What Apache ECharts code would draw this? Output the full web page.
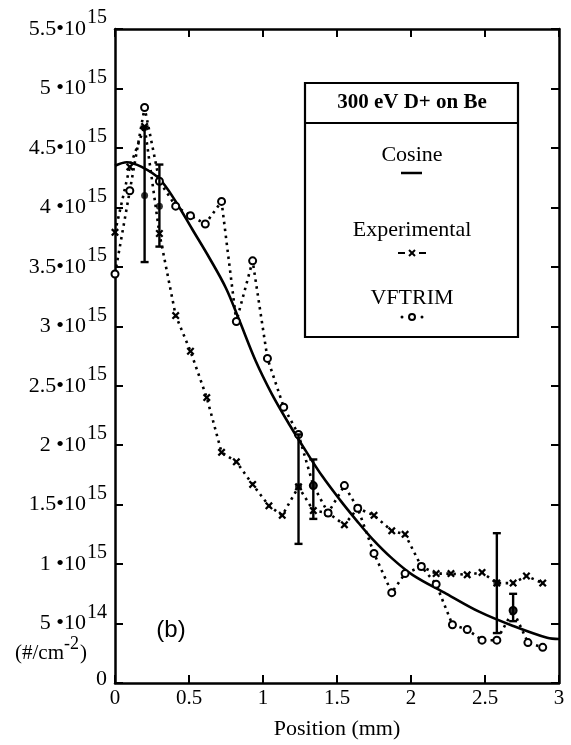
<!DOCTYPE html>
<html>
<head>
<meta charset="utf-8">
<script src="https://cdn.jsdelivr.net/npm/echarts@6/dist/echarts.min.js"></script>
<style>
html,body{margin:0;padding:0;background:#fff;}
#chart{width:571px;height:745px;}
</style>
</head>
<body>
<div id="chart"></div>
<script>
// ---- data (y values in units of 1e15 #/cm^2) ----
const cosineX = [0, 0.08, 0.18, 0.30, 0.41, 0.52, 0.64, 0.75, 0.84, 0.95, 1.06, 1.18, 1.29, 1.40, 1.52, 1.63, 1.74, 1.87, 2.01, 2.24, 2.46, 2.69, 2.92, 3.00];
const cosineY = [4.35, 4.38, 4.34, 4.24, 4.05, 3.82, 3.57, 3.32, 3.05, 2.71, 2.43, 2.17, 1.95, 1.74, 1.54, 1.37, 1.21, 1.05, 0.91, 0.75, 0.60, 0.48, 0.38, 0.37];

const expX = [0, 0.10, 0.20, 0.30, 0.41, 0.51, 0.62, 0.72, 0.82, 0.93, 1.04, 1.13, 1.24, 1.34, 1.44, 1.55, 1.64, 1.75, 1.87, 1.96, 2.07, 2.17, 2.27, 2.38, 2.48, 2.58, 2.69, 2.78, 2.89];
const expY = [3.79, 4.34, 4.68, 3.78, 3.09, 2.79, 2.40, 1.94, 1.86, 1.67, 1.49, 1.41, 1.65, 1.45, 1.43, 1.33, 1.47, 1.41, 1.28, 1.25, 0.98, 0.92, 0.92, 0.91, 0.93, 0.84, 0.84, 0.90, 0.84];

const vftrimX = [0, 0.10, 0.20, 0.30, 0.41, 0.51, 0.61, 0.72, 0.82, 0.93, 1.03, 1.14, 1.24, 1.34, 1.44, 1.55, 1.64, 1.75, 1.87, 1.96, 2.07, 2.17, 2.28, 2.38, 2.48, 2.58, 2.69, 2.79, 2.89];
const vftrimY = [3.44, 4.14, 4.84, 4.22, 4.01, 3.93, 3.86, 4.05, 3.04, 3.55, 2.73, 2.32, 2.09, 1.66, 1.43, 1.66, 1.47, 1.09, 0.76, 0.92, 0.98, 0.83, 0.49, 0.45, 0.36, 0.36, 0.61, 0.34, 0.30];

const errX = [0.20, 0.30, 1.24, 1.34, 2.58, 2.69];
const errLow = [3.54, 3.67, 1.17, 1.38, 0.42, 0.52];
const errHigh = [4.68, 4.36, 2.09, 1.88, 1.26, 0.75];
const errMid = [4.10, 4.01, 1.65, 1.66, 0.84, 0.61];

const xTickLabels = ['0', '0.5', '1', '1.5', '2', '2.5', '3'];
const yTickMantissa = ['0', '5 \u202210', '1 \u202210', '1.5\u202210', '2 \u202210', '2.5\u202210', '3 \u202210', '3.5\u202210', '4 \u202210', '4.5\u202210', '5 \u202210', '5.5\u202210'];
const yTickExponent = ['', '14', '15', '15', '15', '15', '15', '15', '15', '15', '15', '15'];

const legendTitle = '300 eV D+ on Be';
const legendNames = ['Cosine', 'Experimental', 'VFTRIM'];
const xAxisName = 'Position (mm)';
const panelLabel = '(b)';

// ---- build ----
const zip = (a, b) => a.map((v, i) => [v, b[i]]);
const serif = 'Liberation Serif';
const xMark = 'path://M2,0 L5,3 L8,0 L10,2 L7,5 L10,8 L8,10 L5,7 L2,10 L0,8 L3,5 L0,2 Z';

const chart = echarts.init(document.getElementById('chart'), null, {renderer: 'canvas'});

const axisCommon = () => ({
  axisLine: {show: true, onZero: false, lineStyle: {color: '#000', width: 2.5}},
  axisTick: {show: true, inside: true, length: 8, lineStyle: {color: '#000', width: 2}},
  splitLine: {show: false}
});

const option = {
  backgroundColor: '#fff',
  animation: false,
  grid: {left: 115, right: 12, top: 29, bottom: 58, containLabel: false},
  xAxis: [
    Object.assign({
      type: 'value', min: 0, max: 3, interval: 0.5, position: 'bottom',
      axisLabel: {
        show: true, color: '#000', fontFamily: serif, fontSize: 21, margin: 5,
        formatter: (v) => xTickLabels[Math.round(v / 0.5)]
      },
      name: xAxisName, nameLocation: 'middle', nameGap: 35,
      nameTextStyle: {color: '#000', fontFamily: serif, fontSize: 22}
    }, axisCommon()),
    Object.assign({
      type: 'value', min: 0, max: 3, interval: 0.5, position: 'top',
      axisLabel: {show: false}
    }, axisCommon())
  ],
  yAxis: [
    Object.assign({
      type: 'value', min: 0, max: 5.5, interval: 0.5, position: 'left',
      axisLabel: {
        show: true, margin: 8, showMinLabel: true, showMaxLabel: true,
        formatter: (v) => {
          const i = Math.round(v / 0.5);
          const e = yTickExponent[i];
          return e ? '{b|' + yTickMantissa[i] + '}{s|' + e + '}' : '{z|' + yTickMantissa[i] + '}';
        },
        rich: {
          b: {color: '#000', fontFamily: serif, fontSize: 22},
          s: {color: '#000', fontFamily: serif, fontSize: 20, padding: [0, 0, 22, 1]},
          z: {color: '#000', fontFamily: serif, fontSize: 22, padding: [0, 0, 8, 0]}
        }
      }
    }, axisCommon()),
    Object.assign({
      type: 'value', min: 0, max: 5.5, interval: 0.5, position: 'right',
      axisLabel: {show: false}
    }, axisCommon())
  ],
  graphic: [
    {type: 'rect', shape: {x: 305, y: 83, width: 213, height: 254}, style: {fill: '#fff', stroke: '#000', lineWidth: 2.2}, z: 100},
    {type: 'line', shape: {x1: 305, y1: 123, x2: 518, y2: 123}, style: {stroke: '#000', lineWidth: 2}, z: 101},
    {type: 'text', x: 412, y: 103, style: {text: legendTitle, fill: '#000', font: 'bold 21px "Liberation Serif"', align: 'center', verticalAlign: 'middle'}, z: 101},
    {type: 'text', x: 412, y: 155, style: {text: legendNames[0], fill: '#000', font: '22px "Liberation Serif"', align: 'center', verticalAlign: 'middle'}, z: 101},
    {type: 'line', shape: {x1: 401, y1: 173, x2: 422, y2: 173}, style: {stroke: '#000', lineWidth: 2.5}, z: 101},
    {type: 'text', x: 412, y: 230, style: {text: legendNames[1], fill: '#000', font: '22px "Liberation Serif"', align: 'center', verticalAlign: 'middle'}, z: 101},
    {type: 'line', shape: {x1: 398, y1: 253, x2: 405, y2: 253}, style: {stroke: '#000', lineWidth: 2}, z: 101},
    {type: 'line', shape: {x1: 419, y1: 253, x2: 426, y2: 253}, style: {stroke: '#000', lineWidth: 2}, z: 101},
    {type: 'line', shape: {x1: 409, y1: 250, x2: 415, y2: 256}, style: {stroke: '#000', lineWidth: 2}, z: 101},
    {type: 'line', shape: {x1: 415, y1: 250, x2: 409, y2: 256}, style: {stroke: '#000', lineWidth: 2}, z: 101},
    {type: 'text', x: 412, y: 298, style: {text: legendNames[2], fill: '#000', font: '22px "Liberation Serif"', align: 'center', verticalAlign: 'middle'}, z: 101},
    {type: 'circle', shape: {cx: 402, cy: 317, r: 1.5}, style: {fill: '#000'}, z: 101},
    {type: 'circle', shape: {cx: 422, cy: 317, r: 1.5}, style: {fill: '#000'}, z: 101},
    {type: 'circle', shape: {cx: 412, cy: 317, r: 3}, style: {fill: '#fff', stroke: '#000', lineWidth: 2}, z: 101},
    {type: 'text', x: 171, y: 630, style: {text: panelLabel, fill: '#000', font: '24px "Liberation Sans"', align: 'center', verticalAlign: 'middle'}, z: 101},
    {type: 'text', x: 15, y: 653, style: {
      text: '{b|(#/cm}{s|-2}{b|)}', align: 'left', verticalAlign: 'middle',
      rich: {
        b: {fill: '#000', fontFamily: serif, fontSize: 21},
        s: {fill: '#000', fontFamily: serif, fontSize: 18, padding: [0, 1, 18, 0]}
      }
    }, z: 101}
  ],
  series: [
    {
      name: legendNames[0], type: 'line', data: zip(cosineX, cosineY), smooth: 0.35,
      showSymbol: false, lineStyle: {color: '#000', width: 2.6}, z: 3
    },
    {
      name: legendNames[1], type: 'line', data: zip(expX, expY),
      symbol: xMark, symbolSize: 8, showSymbol: true,
      itemStyle: {color: '#000'},
      lineStyle: {color: '#000', width: 2.6, type: [2.5, 4.5]}, z: 4
    },
    {
      name: legendNames[2], type: 'line', data: zip(vftrimX, vftrimY),
      symbol: 'circle', symbolSize: 7, showSymbol: true,
      itemStyle: {color: '#fff', borderColor: '#000', borderWidth: 2},
      lineStyle: {color: '#000', width: 2.6, type: [2.5, 4.5]}, z: 5
    },
    {
      name: 'error', type: 'custom', data: errX.map((x, i) => [x, errLow[i], errHigh[i]]),
      renderItem: (params, api) => {
        const x = api.value(0);
        const pHi = api.coord([x, api.value(2)]);
        const pLo = api.coord([x, api.value(1)]);
        const w = 4;
        const st = {stroke: '#000', lineWidth: 2.4};
        return {type: 'group', children: [
          {type: 'line', shape: {x1: pHi[0], y1: pHi[1], x2: pLo[0], y2: pLo[1]}, style: st},
          {type: 'line', shape: {x1: pHi[0] - w, y1: pHi[1], x2: pHi[0] + w, y2: pHi[1]}, style: st},
          {type: 'line', shape: {x1: pLo[0] - w, y1: pLo[1], x2: pLo[0] + w, y2: pLo[1]}, style: st}
        ]};
      }, z: 6
    },
    {
      name: 'errmid', type: 'scatter', data: zip(errX, errMid),
      symbol: 'circle', symbolSize: 7, itemStyle: {color: '#000'}, z: 7
    }
  ]
};
chart.setOption(option);
</script>
</body>
</html>
